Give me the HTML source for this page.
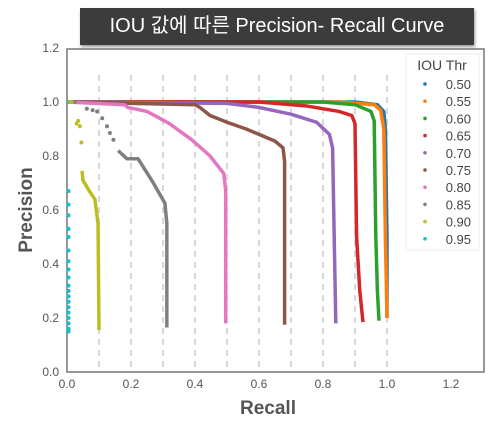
<!DOCTYPE html>
<html><head><meta charset="utf-8">
<style>
body{margin:0;background:#fff;width:503px;height:429px;overflow:hidden;font-family:"Liberation Sans","Noto Sans CJK KR",sans-serif;}
#title{position:absolute;left:80px;top:8px;width:394px;height:37px;background:#3c3c3c;color:#fff;font-size:20px;line-height:37px;text-align:center;box-shadow:1px 2px 3px #999;}
svg{position:absolute;left:0;top:0;}
</style></head><body>
<div id="title">IOU 값에 따른 Precision- Recall Curve</div>
<svg id="c" width="503" height="429"></svg>
<script>
const thresholds=["0.50","0.55","0.60","0.65","0.70","0.75","0.80","0.85","0.90","0.95"];
const colors=["#1f77b4","#ff7f0e","#2ca02c","#d62728","#9467bd","#8c564b","#e377c2","#7f7f7f","#bcbd22","#17becf"];
const xTicks=[0,0.2,0.4,0.6,0.8,1.0,1.2];
const yTicks=[0,0.2,0.4,0.6,0.8,1.0,1.2];
const yTickLabels=["0.0","0.2","0.4","0.6","0.8","1.0","1.2"];
const gridX=[0.1,0.2,0.3,0.4,0.5,0.6,0.7,0.8,0.9,1.0];
const s050=[[0,1],[0.9,1],[0.97,0.99],[0.99,0.965],[0.995,0.9],[1.0,0.5],[1.0,0.2]];
const s055=[[0,1],[0.85,1],[0.96,0.99],[0.98,0.97],[0.99,0.9],[0.995,0.5],[1.0,0.2]];
const s060=[[0,1],[0.8,1],[0.9,0.99],[0.95,0.965],[0.96,0.93],[0.965,0.5],[0.97,0.3],[0.975,0.19]];
const s065=[[0,1],[0.6,1],[0.75,0.985],[0.85,0.965],[0.89,0.95],[0.9,0.92],[0.905,0.5],[0.915,0.3],[0.925,0.185]];
const s070=[[0,1],[0.5,0.995],[0.6,0.98],[0.7,0.955],[0.78,0.925],[0.82,0.88],[0.83,0.83],[0.835,0.5],[0.84,0.18]];
const s075=[[0,1],[0.4,0.99],[0.415,0.98],[0.447,0.95],[0.5,0.925],[0.56,0.9],[0.6,0.88],[0.65,0.855],[0.675,0.83],[0.68,0.78],[0.68,0.175]];
const s080=[[0,1],[0.18,0.99],[0.19,0.98],[0.25,0.965],[0.32,0.92],[0.39,0.86],[0.447,0.8],[0.49,0.735],[0.496,0.67],[0.496,0.18]];
const s085=[[0,1],[0.03,1]];
const s085dots=[[0.062,0.975],[0.08,0.97],[0.094,0.965],[0.11,0.94],[0.125,0.91],[0.134,0.885],[0.145,0.86]];
const s085b=[[0.16,0.82],[0.187,0.79],[0.222,0.79],[0.238,0.76],[0.27,0.70],[0.306,0.625],[0.312,0.55],[0.312,0.165]];
const s090=[[0,1],[0.02,1]];
const s090dots=[[0.03,0.92],[0.035,0.93],[0.04,0.91],[0.045,0.85]];
const s090b=[[0.047,0.745],[0.05,0.71],[0.07,0.67],[0.087,0.64],[0.097,0.55],[0.1,0.155]];
const s095=[[0,1],[0.005,1]];
const s095dots=[0.67,0.62,0.58,0.53,0.5,0.45,0.41,0.38,0.35,0.32,0.3,0.28,0.26,0.24,0.22,0.2,0.18,0.16,0.15];
const X=v=>67+v*320, Y=v=>372-v*270;
const svg=document.getElementById('c');
const NS='http://www.w3.org/2000/svg';
function mk(t,a,p){const e=document.createElementNS(NS,t);for(const k in a)e.setAttribute(k,a[k]);(p||svg).appendChild(e);return e;}
const fr=mk('rect',{x:67,y:49,width:417,height:323,fill:'none',stroke:'#777','stroke-width':1.5});


gridX.forEach(g=>{const l=mk('line',{x1:X(g),x2:X(g),y1:Y(1.1),y2:372,stroke:'#ccc','stroke-width':1.5,'stroke-dasharray':'6,5'});

});
xTicks.forEach(t=>{const e=mk('text',{x:X(t),y:388,'text-anchor':'middle','font-size':12,fill:'#555'});e.textContent=t.toFixed(1);

});
yTicks.forEach((t,i)=>{const e=mk('text',{x:59,y:Y(t)+4,'text-anchor':'end','font-size':12,fill:'#555'});e.textContent=yTickLabels[i];

});
const yt=mk('text',{x:32,y:210,'text-anchor':'middle','font-size':19,'font-weight':'bold',fill:'#555',transform:'rotate(-90 32 210)'});yt.textContent='Precision';


const xt=mk('text',{x:268,y:414,'text-anchor':'middle','font-size':19,'font-weight':'bold',fill:'#555'});xt.textContent='Recall';


function line(pts,c){const p=mk('polyline',{points:pts.map(q=>X(q[0])+','+Y(q[1])).join(' '),fill:'none',stroke:c,'stroke-width':3.5,'stroke-linejoin':'round'});

}
function dots(pts,c){pts.forEach(q=>{const d=mk('circle',{cx:X(q[0]),cy:Y(q[1]),r:2,fill:c});

});}
const series=[s050,s055,s060,s065,s070,s075,s080];
series.forEach((s,i)=>line(s,colors[i]));
line(s085,colors[7]);dots(s085dots,colors[7]);line(s085b,colors[7]);
line(s090,colors[8]);dots(s090dots,colors[8]);line(s090b,colors[8]);
line(s095,colors[9]);dots(s095dots.map(v=>[0.005,v]),colors[9]);
const lg=mk('g',{});


mk('rect',{x:406,y:54,width:73,height:196,fill:'#fff',stroke:'#eee'},lg);
const lt=mk('text',{x:442,y:70,'text-anchor':'middle','font-size':14,fill:'#444'},lg);lt.textContent='IOU Thr';
thresholds.forEach((t,i)=>{const y=84+i*17.2;
const g=mk('g',{},lg);


mk('circle',{cx:425,cy:y,r:1.8,fill:colors[i]},g);
const e=mk('text',{x:471,y:y+5,'text-anchor':'end','font-size':13,fill:'#444'},g);e.textContent=t;});
</script>
</body></html>
